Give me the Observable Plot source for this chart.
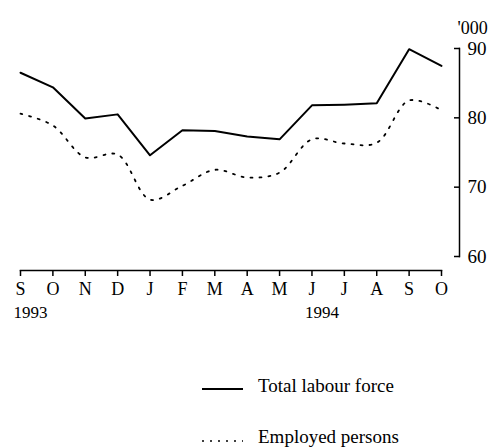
<!DOCTYPE html>
<html>
<head>
<meta charset="utf-8">
<script src="https://cdn.jsdelivr.net/npm/d3@7"></script>
<script src="https://cdn.jsdelivr.net/npm/@observablehq/plot@0.6"></script>
<style>
  html, body { margin: 0; padding: 0; background: #fff; }
  #chart svg { display: block; }
  .legend { font-family: "Liberation Serif", serif; font-size: 19px; color: #000; margin-left: 202px; }
  .row { display: flex; align-items: center; height: 22px; }
  .row svg { margin-right: 15px; }
</style>
</head>
<body>
<div id="chart"></div>
<div class="legend" id="legend"></div>
<script>
const months = ["S","O","N","D","J","F","M","A","M","J","J","A","S","O"];
const totalLabour = [86.5, 84.4, 79.9, 80.5, 74.6, 78.2, 78.1, 77.3, 76.9, 81.8, 81.9, 82.1, 89.9, 87.5];
const employed = [80.6, 78.9, 74.3, 74.7, 68.2, 70.2, 72.5, 71.4, 72.1, 76.9, 76.3, 76.4, 82.5, 81.1];
const yearLabels = ["1993", "1994"];
const yearIndex = [0, 9];
const yTicks = [60, 70, 80, 90];
const unitLabel = "'000";
const seriesNames = ["Total labour force", "Employed persons"];

const data = months.map((m, i) => ({i, m, total: totalLabour[i], employed: employed[i]}));
const years = yearIndex.map((i, k) => ({i, label: yearLabels[k]}));

const chart = Plot.plot({
  width: 502,
  height: 330,
  marginTop: 48,
  marginBottom: 60,
  marginLeft: 20,
  marginRight: 43,
  style: {fontFamily: "'Liberation Serif', serif", fontSize: "19px", color: "#000", background: "#fff"},
  x: {type: "linear", domain: [0, months.length - 1], insetRight: 18, axis: null},
  y: {domain: [60, 90], insetBottom: 14, axis: null},
  marks: [
    Plot.frame({anchor: "right", insetBottom: 14, stroke: "#000", strokeWidth: 1.5}),
    Plot.frame({anchor: "bottom", insetRight: 18, stroke: "#000", strokeWidth: 1.5}),
    Plot.axisY(yTicks, {anchor: "right", tickSize: 6, dx: -6, tickFormat: () => "", label: null, stroke: "#000", strokeWidth: 1.5}),
    Plot.axisY(yTicks, {anchor: "right", tickSize: 0, tickPadding: 8, tickFormat: d => d, label: null, fill: "#000"}),
    Plot.axisX(d3.range(months.length), {anchor: "bottom", tickSize: 6, tickPadding: 6, tickFormat: i => months[i], label: null, stroke: "#000", strokeWidth: 1.5, fill: "#000", fontSize: 18}),
    Plot.text(years, {x: "i", text: "label", frameAnchor: "bottom", textAnchor: "start", dx: -7, dy: 47, fill: "#000", fontSize: 17}),
    Plot.text([unitLabel], {frameAnchor: "top-right", textAnchor: "start", dx: -2, dy: -27, fill: "#000", fontSize: 18}),
    Plot.line(data, {x: "i", y: "total", stroke: "#000", strokeWidth: 2}),
    Plot.line(data, {x: "i", y: "employed", stroke: "#000", strokeWidth: 1.8, strokeDasharray: "2,7", curve: "catmull-rom"})
  ]
});
document.getElementById("chart").appendChild(chart);

const legend = document.getElementById("legend");
legend.style.marginTop = "45px";
seriesNames.forEach((name, k) => {
  const row = document.createElement("div");
  row.className = "row";
  if (k > 0) row.style.marginTop = "29px";
  const dash = k === 0 ? "" : 'stroke-dasharray="2,6"';
  row.innerHTML = `<svg width="41" height="12"><line x1="0" x2="41" y1="${k === 0 ? 9 : 10}" y2="${k === 0 ? 9 : 10}" stroke="#000" stroke-width="${k === 0 ? 2 : 1.5}" ${dash}/></svg><span>${name}</span>`;
  legend.appendChild(row);
});
</script>
</body>
</html>
